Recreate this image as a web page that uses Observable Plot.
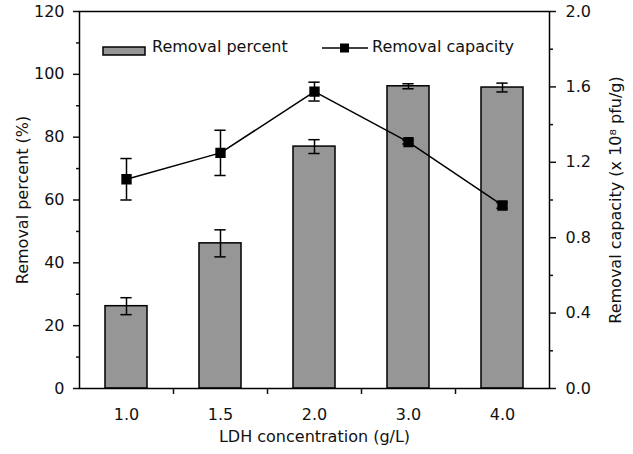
<!DOCTYPE html>
<html><head><meta charset="utf-8">
<script src="https://cdn.jsdelivr.net/npm/d3@7"></script>
<script src="https://cdn.jsdelivr.net/npm/@observablehq/plot@0.6"></script>
<style>
body{margin:0;background:#fff;}
#wrap{position:relative;width:633px;height:454px;font-family:"DejaVu Sans",sans-serif;color:#111;}
.lg{position:absolute;font-size:16px;line-height:16px;white-space:nowrap;}
</style></head><body><div id="wrap"></div>
<script>
const concentrations = ["1.0", "1.5", "2.0", "3.0", "4.0"];
const removalPercent = [26.2, 46.2, 77.0, 96.2, 95.8];
const percentError = [2.7, 4.3, 2.2, 0.8, 1.4];
const removalCapacity = [1.11, 1.25, 1.575, 1.307, 0.971];
const capacityError = [0.11, 0.12, 0.05, 0.01, 0.015];
const percentTicks = [0, 20, 40, 60, 80, 100, 120];
const percentMinor = [10, 30, 50, 70, 90, 110];
const capacityTicks = [0.0, 0.4, 0.8, 1.2, 1.6, 2.0];
const capacityMinor = [0.2, 0.6, 1.0, 1.4, 1.8];
const xLabel = "LDH concentration (g/L)";
const yLeftLabel = "Removal percent (%)";
const yRightLabel = "Removal capacity (x 10⁸ pfu/g)";

const k = 120 / 2.0; // capacity -> left scale units
const data = concentrations.map((c, i) => ({
  i, c,
  pct: removalPercent[i], pctErr: percentError[i],
  cap: removalCapacity[i] * k, capErr: capacityError[i] * k
}));
const half = 0.2235, cap = 0.06;
const pctCaps = data.flatMap(d => [{i: d.i, y: d.pct + d.pctErr}, {i: d.i, y: d.pct - d.pctErr}]);
const capCaps = data.flatMap(d => [{i: d.i, y: d.cap + d.capErr}, {i: d.i, y: d.cap - d.capErr}]);

const chart = Plot.plot({
  width: 633, height: 454,
  marginLeft: 79, marginRight: 84, marginTop: 11, marginBottom: 66,
  style: {fontFamily: "DejaVu Sans, sans-serif", fontSize: "15px", color: "#111", background: "white", overflow: "visible"},
  x: {type: "linear", domain: [-0.5, 4.5]},
  y: {domain: [0, 120]},
  marks: [
    Plot.rectY(data, {x1: d => d.i - half, x2: d => d.i + half, y1: 0, y2: "pct", fill: "#969696", stroke: "black", strokeWidth: 1.5}),
    Plot.ruleX(data, {x: "i", y1: d => d.pct - d.pctErr, y2: d => d.pct + d.pctErr, stroke: "black", strokeWidth: 1.5}),
    Plot.ruleY(pctCaps, {y: "y", x1: d => d.i - cap, x2: d => d.i + cap, stroke: "black", strokeWidth: 1.5}),
    Plot.line(data, {x: "i", y: "cap", stroke: "black", strokeWidth: 1.5}),
    Plot.ruleX(data, {x: "i", y1: d => d.cap - d.capErr, y2: d => d.cap + d.capErr, stroke: "black", strokeWidth: 1.5}),
    Plot.ruleY(capCaps, {y: "y", x1: d => d.i - cap, x2: d => d.i + cap, stroke: "black", strokeWidth: 1.5}),
    Plot.dot(data, {x: "i", y: "cap", symbol: "square", r: 5, fill: "black", stroke: "black"}),
    Plot.frame({stroke: "black", strokeWidth: 1.5}),
    Plot.axisY(percentTicks, {anchor: "left", tickSize: 6, tickPadding: 9, strokeWidth: 1.5, fontSize: 16, label: null}),
    Plot.axisY(percentMinor, {anchor: "left", tickSize: 3, tickFormat: () => "", strokeWidth: 1.5, label: null}),
    Plot.axisY(capacityTicks.map(v => v * k), {anchor: "right", tickSize: 6, tickPadding: 10, strokeWidth: 1.5, fontSize: 16, tickFormat: d => (d / k).toFixed(1), label: null}),
    Plot.axisY(capacityMinor.map(v => v * k), {anchor: "right", tickSize: 3, tickFormat: () => "", strokeWidth: 1.5, label: null}),
    Plot.axisX(d3.range(concentrations.length), {anchor: "bottom", tickSize: 0, tickPadding: 20, fontSize: 16, tickFormat: i => concentrations[i], label: null}),
    Plot.axisX(d3.range(concentrations.length - 1).map(i => i + 0.5), {anchor: "bottom", tickSize: 6, tickFormat: () => "", strokeWidth: 1.5, label: null}),
    Plot.text([yLeftLabel], {frameAnchor: "left", textAnchor: "middle", rotate: -90, dx: -57, text: d => d, fontSize: 16, fill: "#111"}),
    Plot.text([yRightLabel], {frameAnchor: "right", textAnchor: "middle", rotate: -90, dx: 66, text: d => d, fontSize: 16, fill: "#111"}),
    Plot.text([xLabel], {frameAnchor: "bottom", dy: 53, text: d => d, fontSize: 16, fill: "#111"})
  ]
});
const wrap = document.getElementById("wrap");
wrap.appendChild(chart);

// legend inside plot area
const legend = [
  {html: '<svg width="44" height="10" style="vertical-align:middle"><rect x="1" y="1" width="42" height="8" fill="#969696" stroke="black" stroke-width="1.5"/></svg>', left: 102, top: 42},
  {html: "Removal percent", left: 152, top: 39},
  {html: '<svg width="46" height="12"><line x1="0" y1="6" x2="46" y2="6" stroke="black" stroke-width="1.5"/><rect x="18" y="1.5" width="9" height="9" fill="black"/></svg>', left: 322, top: 41},
  {html: "Removal capacity", left: 372, top: 39}
];
for (const l of legend) {
  const d = document.createElement("div");
  d.className = "lg";
  d.style.left = l.left + "px";
  d.style.top = l.top + "px";
  d.innerHTML = l.html;
  wrap.appendChild(d);
}
</script></body></html>
